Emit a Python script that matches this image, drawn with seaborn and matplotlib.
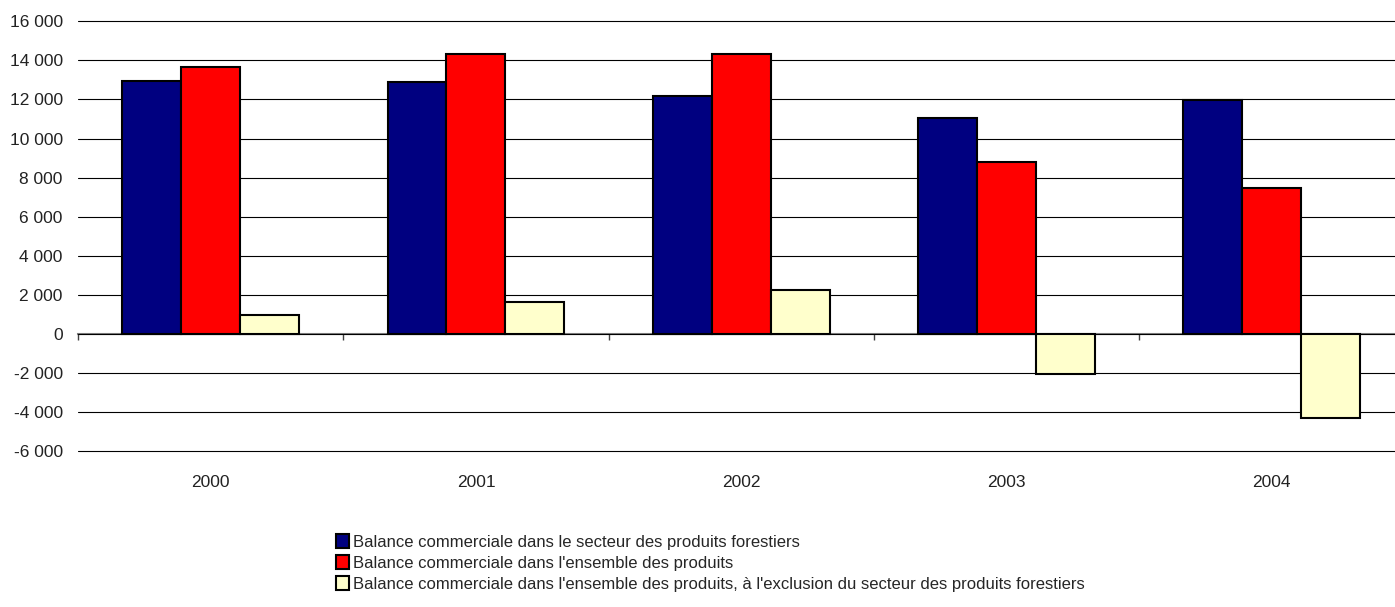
import numpy as np
import pandas as pd
import matplotlib
matplotlib.use("Agg")
import matplotlib.pyplot as plt
import seaborn as sns

# données
annees = ["2000", "2001", "2002", "2003", "2004"]
forestiers = [12940, 12890, 12170, 11040, 11980]
ensemble = [13680, 14340, 14310, 8800, 7450]
hors_forestiers = [970, 1620, 2270, -2030, -4310]

series = [
    "Balance commerciale dans le secteur des produits forestiers",
    "Balance commerciale dans l'ensemble des produits",
    "Balance commerciale dans l'ensemble des produits, à l'exclusion du secteur des produits forestiers",
]
couleurs = ["#000080", "#FF0000", "#FFFFCC"]

df = pd.DataFrame({
    "annee": annees * 3,
    "valeur": forestiers + ensemble + hors_forestiers,
    "serie": np.repeat(series, len(annees)),
})

sns.set_style("white")
plt.rcParams["font.family"] = ["Liberation Sans Narrow", "Liberation Sans", "DejaVu Sans"]

fig = plt.figure(figsize=(13.95, 6.07), dpi=100)
ax = fig.add_axes([78 / 1395, 1 - 451.3 / 607, 1326.5 / 1395, 430 / 607])

sns.barplot(data=df, x="annee", y="valeur", hue="serie", palette=couleurs,
            saturation=1, width=2 / 3, edgecolor="black", linewidth=1.5,
            ax=ax, legend=True)

ymin, ymax = -6000, 16000
ax.set_ylim(ymin, ymax)
ax.set_xlim(-0.5, len(annees) - 0.5)
ax.set_yticks(np.arange(ymin, ymax + 1, 2000))
ax.set_yticklabels([f"{int(v):,}".replace(",", " ") for v in np.arange(ymin, ymax + 1, 2000)])
ax.grid(axis="y", color="black", linewidth=0.8)
for g in ax.get_ygridlines():
    g.set_clip_on(False)
ax.set_axisbelow(True)
for s in ax.spines.values():
    s.set_visible(False)
ax.tick_params(axis="y", length=0, pad=11, labelsize=12.5, labelcolor="#222222")
ax.tick_params(axis="x", length=0, pad=17, labelsize=12.5, labelcolor="#222222")
ax.set_xlabel("")
ax.set_ylabel("")

# axe des catégories à 0
zero = (0 - ymin) / (ymax - ymin)
sec = ax.secondary_xaxis(zero)
sec.spines["bottom"].set_color("#808080")
sec.spines["bottom"].set_linewidth(1.5)
sec.set_xticks(np.arange(-0.5, len(annees), 1.0))
sec.set_xticklabels([])
sec.tick_params(axis="x", direction="out", length=4, width=1, color="#404040")

handles, labels = ax.get_legend_handles_labels()
ax.get_legend().remove()
fig.legend(handles, labels, loc="upper left", bbox_to_anchor=(336 / 1395, 1 - 534 / 607),
           frameon=False, fontsize=12, handlelength=0.8, handleheight=0.95,
           handletextpad=0.2, labelspacing=0.3, borderaxespad=0, borderpad=0)

fig.savefig("out.png", dpi=100)
